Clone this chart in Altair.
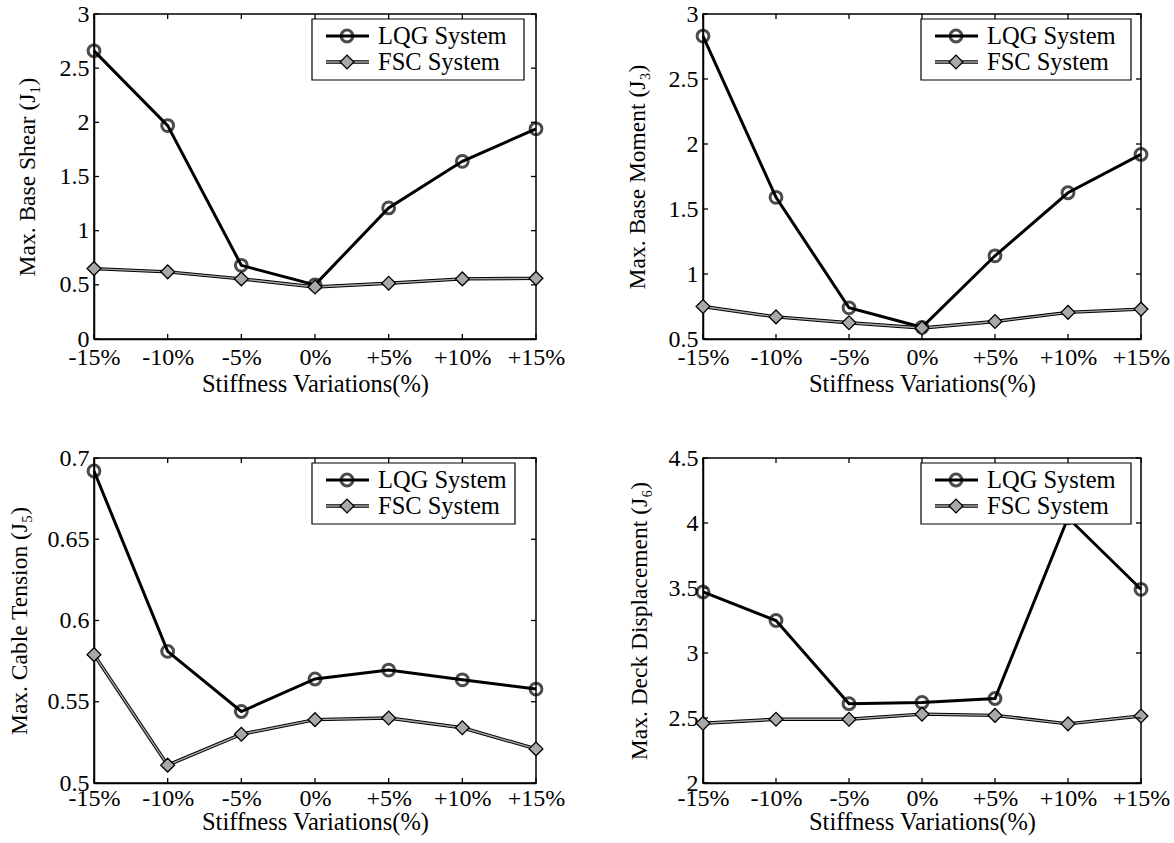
import altair as alt
import pandas as pd

x_labels = ["-15%", "-10%", "-5%", "0%", "+5%", "+10%", "+15%"]
series_names = ["LQG System", "FSC System"]

j1_lqg = [2.66, 1.97, 0.68, 0.50, 1.21, 1.64, 1.94]
j1_fsc = [0.65, 0.62, 0.555, 0.48, 0.515, 0.555, 0.56]

j3_lqg = [2.83, 1.59, 0.74, 0.59, 1.14, 1.625, 1.92]
j3_fsc = [0.75, 0.67, 0.625, 0.585, 0.635, 0.705, 0.73]

j5_lqg = [0.692, 0.581, 0.544, 0.564, 0.5695, 0.5635, 0.5578]
j5_fsc = [0.579, 0.511, 0.530, 0.539, 0.540, 0.534, 0.521]

j6_lqg = [3.47, 3.25, 2.61, 2.62, 2.65, 4.04, 3.49]
j6_fsc = [2.46, 2.49, 2.49, 2.53, 2.52, 2.455, 2.515]

titles = ["Max. Base Shear (J\u2081)", "Max. Base Moment (J\u2083)",
          "Max. Cable Tension (J\u2085)", "Max. Deck Displacement (J\u2086)"]
y_ranges = [(0, 3, 0.5), (0.5, 3, 0.5), (0.5, 0.7, 0.05), (2, 4.5, 0.5)]
x_title = "Stiffness Variations(%)"

H = 325
FONT = "Liberation Serif"
GRAY = "#a8a8a8"


def one(**kw):
    return alt.Data(values=[kw or {"k": 0}])


def panel(lqg, fsc, yr, ytitle, W, leg_right, title_x, label_pad, title_y):
    y0, y1, step = yr
    n = int(round((y1 - y0) / step))
    yticks = [round(y0 + i * step, 4) for i in range(n + 1)]
    df = pd.DataFrame({
        "x": x_labels * 2,
        "value": lqg + fsc,
        "series": [series_names[0]] * 7 + [series_names[1]] * 7,
    })
    X = alt.X("x:N", sort=x_labels, scale=alt.Scale(type="point", padding=0),
              axis=alt.Axis(title=x_title, labelAngle=0, labelPadding=label_pad,
                            titleY=title_y, titleBaseline="middle", titleFontSize=24.5,
                            tickSize=0))
    Y = alt.Y("value:Q", scale=alt.Scale(domain=[y0, y1], nice=False, zero=False),
              axis=alt.Axis(title=ytitle, values=yticks, format="~g",
                            labelPadding=5, titleX=title_x, titleBaseline="middle",
                            titleFontSize=23.5, tickSize=0))
    base = alt.Chart(df).encode(x=X, y=Y)
    lq = base.transform_filter(alt.datum.series == series_names[0])
    fs = base.transform_filter(alt.datum.series == series_names[1])

    layers = [
        lq.mark_line(color="black", strokeWidth=3),
        lq.mark_point(shape="circle", filled=False, color="black", size=140, strokeWidth=3),
        fs.mark_line(color="black", strokeWidth=3.4),
        fs.mark_line(color=GRAY, strokeWidth=1.4),
        fs.mark_point(shape="diamond", filled=True, fill=GRAY, stroke="black",
                      strokeWidth=1.3, size=190, opacity=1),
    ]
    ytdf = pd.DataFrame({"value": yticks})
    xtdf = pd.DataFrame({"x": x_labels})
    layers += [
        alt.Chart(ytdf).mark_rule(color="black", strokeWidth=1.3).encode(
            y=Y, x=alt.value(0), x2=alt.value(5)),
        alt.Chart(ytdf).mark_rule(color="black", strokeWidth=1.3).encode(
            y=Y, x=alt.value(W - 5), x2=alt.value(W)),
        alt.Chart(xtdf).mark_rule(color="black", strokeWidth=1.3).encode(
            x=X, y=alt.value(H - 5), y2=alt.value(H)),
        alt.Chart(xtdf).mark_rule(color="black", strokeWidth=1.3).encode(
            x=X, y=alt.value(0), y2=alt.value(5)),
    ]
    # legend box
    bx0, bx1, by0, by1 = 218, leg_right, 5, 66
    rows = [22, 48]
    layers.append(
        alt.Chart(one()).mark_rect(fill="white", stroke="black", strokeWidth=1.2).encode(
            x=alt.value(bx0), x2=alt.value(bx1), y=alt.value(by0), y2=alt.value(by1)))
    layers += [
        alt.Chart(one()).mark_rule(color="black", strokeWidth=3).encode(
            x=alt.value(232), x2=alt.value(275), y=alt.value(rows[0])),
        alt.Chart(one()).mark_point(shape="circle", filled=False, color="black",
                                    size=140, strokeWidth=3).encode(
            x=alt.value(253), y=alt.value(rows[0])),
        alt.Chart(one(t=series_names[0])).mark_text(
            align="left", baseline="middle", font=FONT, fontSize=24.5, color="black").encode(
            x=alt.value(284), y=alt.value(rows[0] + 1), text="t:N"),
        alt.Chart(one()).mark_rule(color="black", strokeWidth=3.4).encode(
            x=alt.value(232), x2=alt.value(275), y=alt.value(rows[1])),
        alt.Chart(one()).mark_rule(color=GRAY, strokeWidth=1.4).encode(
            x=alt.value(232), x2=alt.value(275), y=alt.value(rows[1])),
        alt.Chart(one()).mark_point(shape="diamond", filled=True, fill=GRAY, stroke="black",
                                    strokeWidth=1.3, size=190, opacity=1).encode(
            x=alt.value(253), y=alt.value(rows[1])),
        alt.Chart(one(t=series_names[1])).mark_text(
            align="left", baseline="middle", font=FONT, fontSize=24.5, color="black").encode(
            x=alt.value(284), y=alt.value(rows[1] + 1), text="t:N"),
    ]
    return alt.layer(*layers).properties(width=W, height=H)


p1 = panel(j1_lqg, j1_fsc, y_ranges[0], titles[0], 442, 430, -67, 6, 45)
p2 = panel(j3_lqg, j3_fsc, y_ranges[1], titles[1], 438, 428, -66, 6, 45)
p3 = panel(j5_lqg, j5_fsc, y_ranges[2], titles[2], 442, 421, -75, 3, 39)
p4 = panel(j6_lqg, j6_fsc, y_ranges[3], titles[3], 438, 428, -64, 3, 39)

chart = alt.concat(p1, p2, p3, p4, columns=2, spacing={"row": 48, "column": 58}).properties(
    padding={"left": 6, "top": 1, "right": 2, "bottom": 2},
    background="white",
).configure_view(stroke="black", strokeWidth=1.5).configure_axis(
    domainColor="black", domainWidth=1.5, labelColor="black", titleColor="black",
    labelFont=FONT, titleFont=FONT, labelFontSize=24,
    titleFontWeight="normal", grid=False,
)

chart.save("out.html", embed_options={"renderer": "svg", "actions": False})
